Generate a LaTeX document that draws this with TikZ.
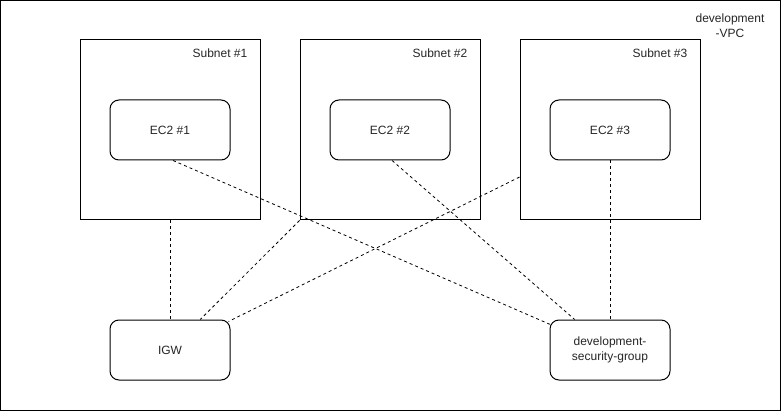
\documentclass[tikz,border=0pt]{standalone}
\usepackage{fontspec}
\setmainfont{Liberation Sans}
\usetikzlibrary{calc}
\begin{document}
\begin{tikzpicture}[x=1pt,y=-1pt,
  every node/.style={font=\fontsize{12}{15}\selectfont, text=black!85},
  box/.style={draw, line width=1pt, minimum width=180pt, minimum height=180pt, inner sep=0pt},
  inst/.style={draw, line width=1pt, rounded corners=9pt, minimum width=120pt, minimum height=60pt, inner sep=0pt, align=center},
  lbl/.style={anchor=east, inner sep=0pt},
  link/.style={line width=0.8pt, dash pattern=on 3pt off 3pt}]
\useasboundingbox (0,0) rectangle (781,411);
\fill[white] (0,0) rectangle (781,411);
\node[draw, line width=1pt, minimum width=779.5pt, minimum height=409.5pt, inner sep=0pt] (vpc) at (390.25,205.25) {};
\node[align=center, inner sep=0pt] (vpclbl) at (730,26) {development\\-VPC};
\node[box] (s1) at (170,130) {};
\node[box] (s2) at (390,130) {};
\node[box] (s3) at (610,130) {};
\node[lbl] (s1l) at ($(s1.north east)+(-13,14)$) {Subnet \#1};
\node[lbl] (s2l) at ($(s2.north east)+(-13,14)$) {Subnet \#2};
\node[lbl] (s3l) at ($(s3.north east)+(-13,14)$) {Subnet \#3};
\node[inst] (e1) at (170,130) {EC2 \#1};
\node[inst] (e2) at (390,130) {EC2 \#2};
\node[inst] (e3) at (610,130) {EC2 \#3};
\node[inst] (igw) at (170,350) {IGW};
\node[inst] (sg) at (610,350) {development-\\security-group};
\draw[link] (s1.south) -- (igw.north);
\draw[link] ($(e1.south west)!0.525!(e1.south east)$) -- ($(sg.north west)+(0.8,5)$);
\draw[link] (s2.south west) -- ($(igw.north west)!0.75!(igw.north east)$);
\draw[link] ($(s3.north west)!0.76!(s3.south west)$) -- ($(igw.north east)+(-2,2)$);
\draw[link] ($(e2.south west)!0.517!(e2.south east)$) -- ($(sg.north west)!0.208!(sg.north east)$);
\draw[link] (e3.south) -- (sg.north);
\end{tikzpicture}
\end{document}
